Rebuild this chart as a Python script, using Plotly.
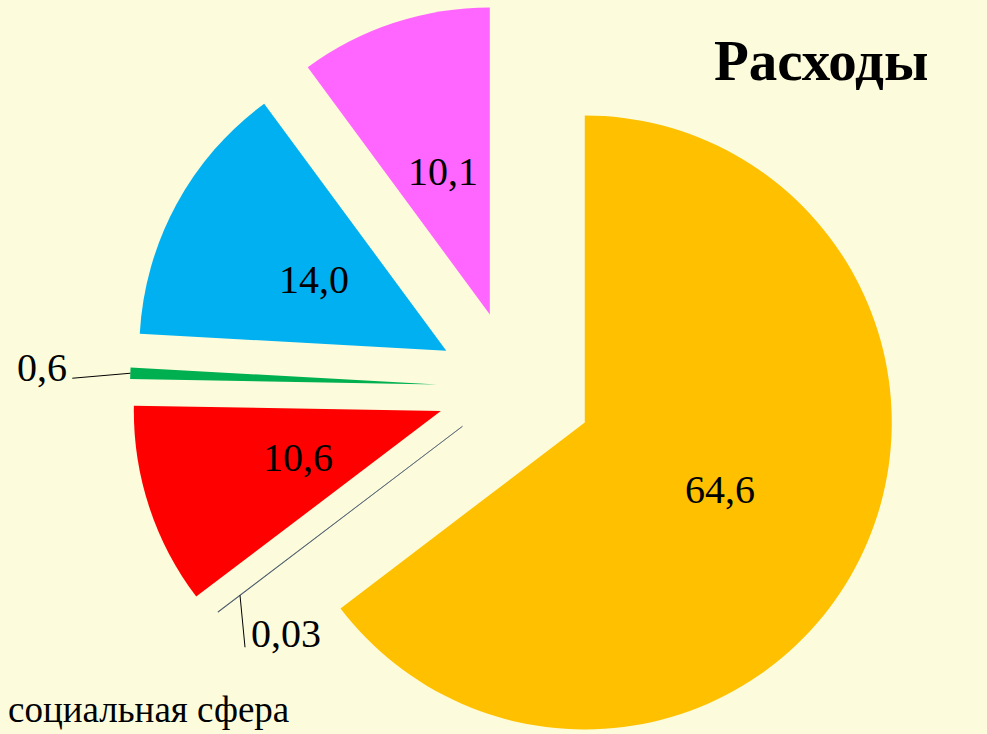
import math
import plotly.graph_objects as go

# ---------------- data ----------------
categories = ["Статья 1", "Социальная сфера", "Статья 3", "Статья 4", "Статья 5", "Статья 6"]
values = [64.6, 0.03, 10.6, 0.6, 14.0, 10.1]
value_labels = ["64,6", "0,03", "10,6", "0,6", "14,0", "10,1"]
colors = ["#FFC000", "#44546A", "#FF0000", "#00B050", "#00B0F0", "#FF66FF"]
pulls = [0.258, 0.21, 0.25, 0.25, 0.25, 0.25]
title_text = "Расходы"
note_text = "социальная сфера"

# ---------------- layout geometry ----------------
W, H = 987, 734
R = 307.0                 # pie radius in px
CX, CY = 513.8, 387.3     # unpulled pie centre in px (y downwards)
BG = "#FCFCDC"
FONT = "Liberation Serif, Times New Roman, serif"

total = sum(values)
mids = []
acc = 0.0
for v in values:
    a0 = acc / total * 360.0
    acc += v
    a1 = acc / total * 360.0
    mids.append((a0 + a1) / 2.0)

def direction(theta_deg):
    t = math.radians(theta_deg)
    return math.sin(t), -math.cos(t)

def px_to_paper(x, y):
    return x / W, 1 - y / H

fig = go.Figure()
centres = []
for i, v in enumerate(values):
    dx, dy = direction(mids[i])
    cx = CX + pulls[i] * R * dx
    cy = CY + pulls[i] * R * dy
    centres.append((cx, cy))
    x0 = max(0.0, (cx - R) / W)
    x1 = min(1.0, (cx + R) / W)
    y0 = max(0.0, 1 - (cy + R) / H)
    y1 = min(1.0, 1 - (cy - R) / H)
    fig.add_trace(go.Pie(
        labels=categories,
        values=values,
        sort=False,
        direction="clockwise",
        rotation=0,
        textinfo="none",
        hoverinfo="label+value",
        showlegend=False,
        marker=dict(
            colors=[colors[j] if j == i else "rgba(0,0,0,0)" for j in range(len(values))],
            line=dict(
                color=[colors[j] for j in range(len(values))],
                width=[(0.6 if (j == i and values[j] < 0.1) else 0) for j in range(len(values))],
            ),
        ),
        domain=dict(x=[x0, x1], y=[y0, y1]),
    ))

annotations = []
shapes = []
for i, v in enumerate(values):
    dx, dy = direction(mids[i])
    cx, cy = centres[i]
    if v >= 5:
        lx = cx + 0.49 * R * dx
        ly = cy + 0.49 * R * dy
        px, py = px_to_paper(lx, ly)
        annotations.append(dict(x=px, y=py, xref="paper", yref="paper", text=value_labels[i],
                                showarrow=False, font=dict(family=FONT, size=40, color="black"),
                                xanchor="center", yanchor="middle"))

# small slice 0,6 : label outside with leader line from the outer edge
i = 3
dx, dy = direction(mids[i])
ox, oy = centres[i][0] + R * dx, centres[i][1] + R * dy
ex, ey = ox - 58, oy + 5
shapes.append(dict(type="line", xref="paper", yref="paper",
                   x0=px_to_paper(ox, oy)[0], y0=px_to_paper(ox, oy)[1],
                   x1=px_to_paper(ex, ey)[0], y1=px_to_paper(ex, ey)[1],
                   line=dict(color="black", width=1)))
tx, ty = px_to_paper(ox - 88, oy - 6)
annotations.append(dict(x=tx, y=ty, xref="paper", yref="paper", text=value_labels[i],
                        showarrow=False, font=dict(family=FONT, size=40, color="black"),
                        xanchor="center", yanchor="middle"))

# tiny slice 0,03 : label below with leader line
i = 1
dx, dy = direction(mids[i])
ox, oy = centres[i][0] + 0.91 * R * dx, centres[i][1] + 0.91 * R * dy
ex, ey = ox + 5, oy + 52
shapes.append(dict(type="line", xref="paper", yref="paper",
                   x0=px_to_paper(ox, oy)[0], y0=px_to_paper(ox, oy)[1],
                   x1=px_to_paper(ex, ey)[0], y1=px_to_paper(ex, ey)[1],
                   line=dict(color="black", width=1)))
tx, ty = px_to_paper(ox + 46, oy + 38)
annotations.append(dict(x=tx, y=ty, xref="paper", yref="paper", text=value_labels[i],
                        showarrow=False, font=dict(family=FONT, size=40, color="black"),
                        xanchor="center", yanchor="middle"))

# title
tx, ty = px_to_paper(821, 61)
annotations.append(dict(x=tx, y=ty, xref="paper", yref="paper", text="<b>" + title_text + "</b>",
                        showarrow=False, font=dict(family=FONT, size=57, color="black"),
                        xanchor="center", yanchor="middle"))
# bottom note
tx, ty = px_to_paper(6, 709)
annotations.append(dict(x=tx, y=ty, xref="paper", yref="paper", text=note_text,
                        showarrow=False, font=dict(family=FONT, size=37, color="black"),
                        xanchor="left", yanchor="middle"))

fig.update_layout(
    width=W, height=H,
    margin=dict(l=0, r=0, t=0, b=0),
    paper_bgcolor=BG, plot_bgcolor=BG,
    annotations=annotations,
    shapes=shapes,
    showlegend=False,
)

fig.write_html(
    "out.html",
    config={"displayModeBar": False},
    post_script="document.body.style.margin='0';document.body.style.overflow='hidden';"
                "document.body.style.background='" + BG + "';",
)
